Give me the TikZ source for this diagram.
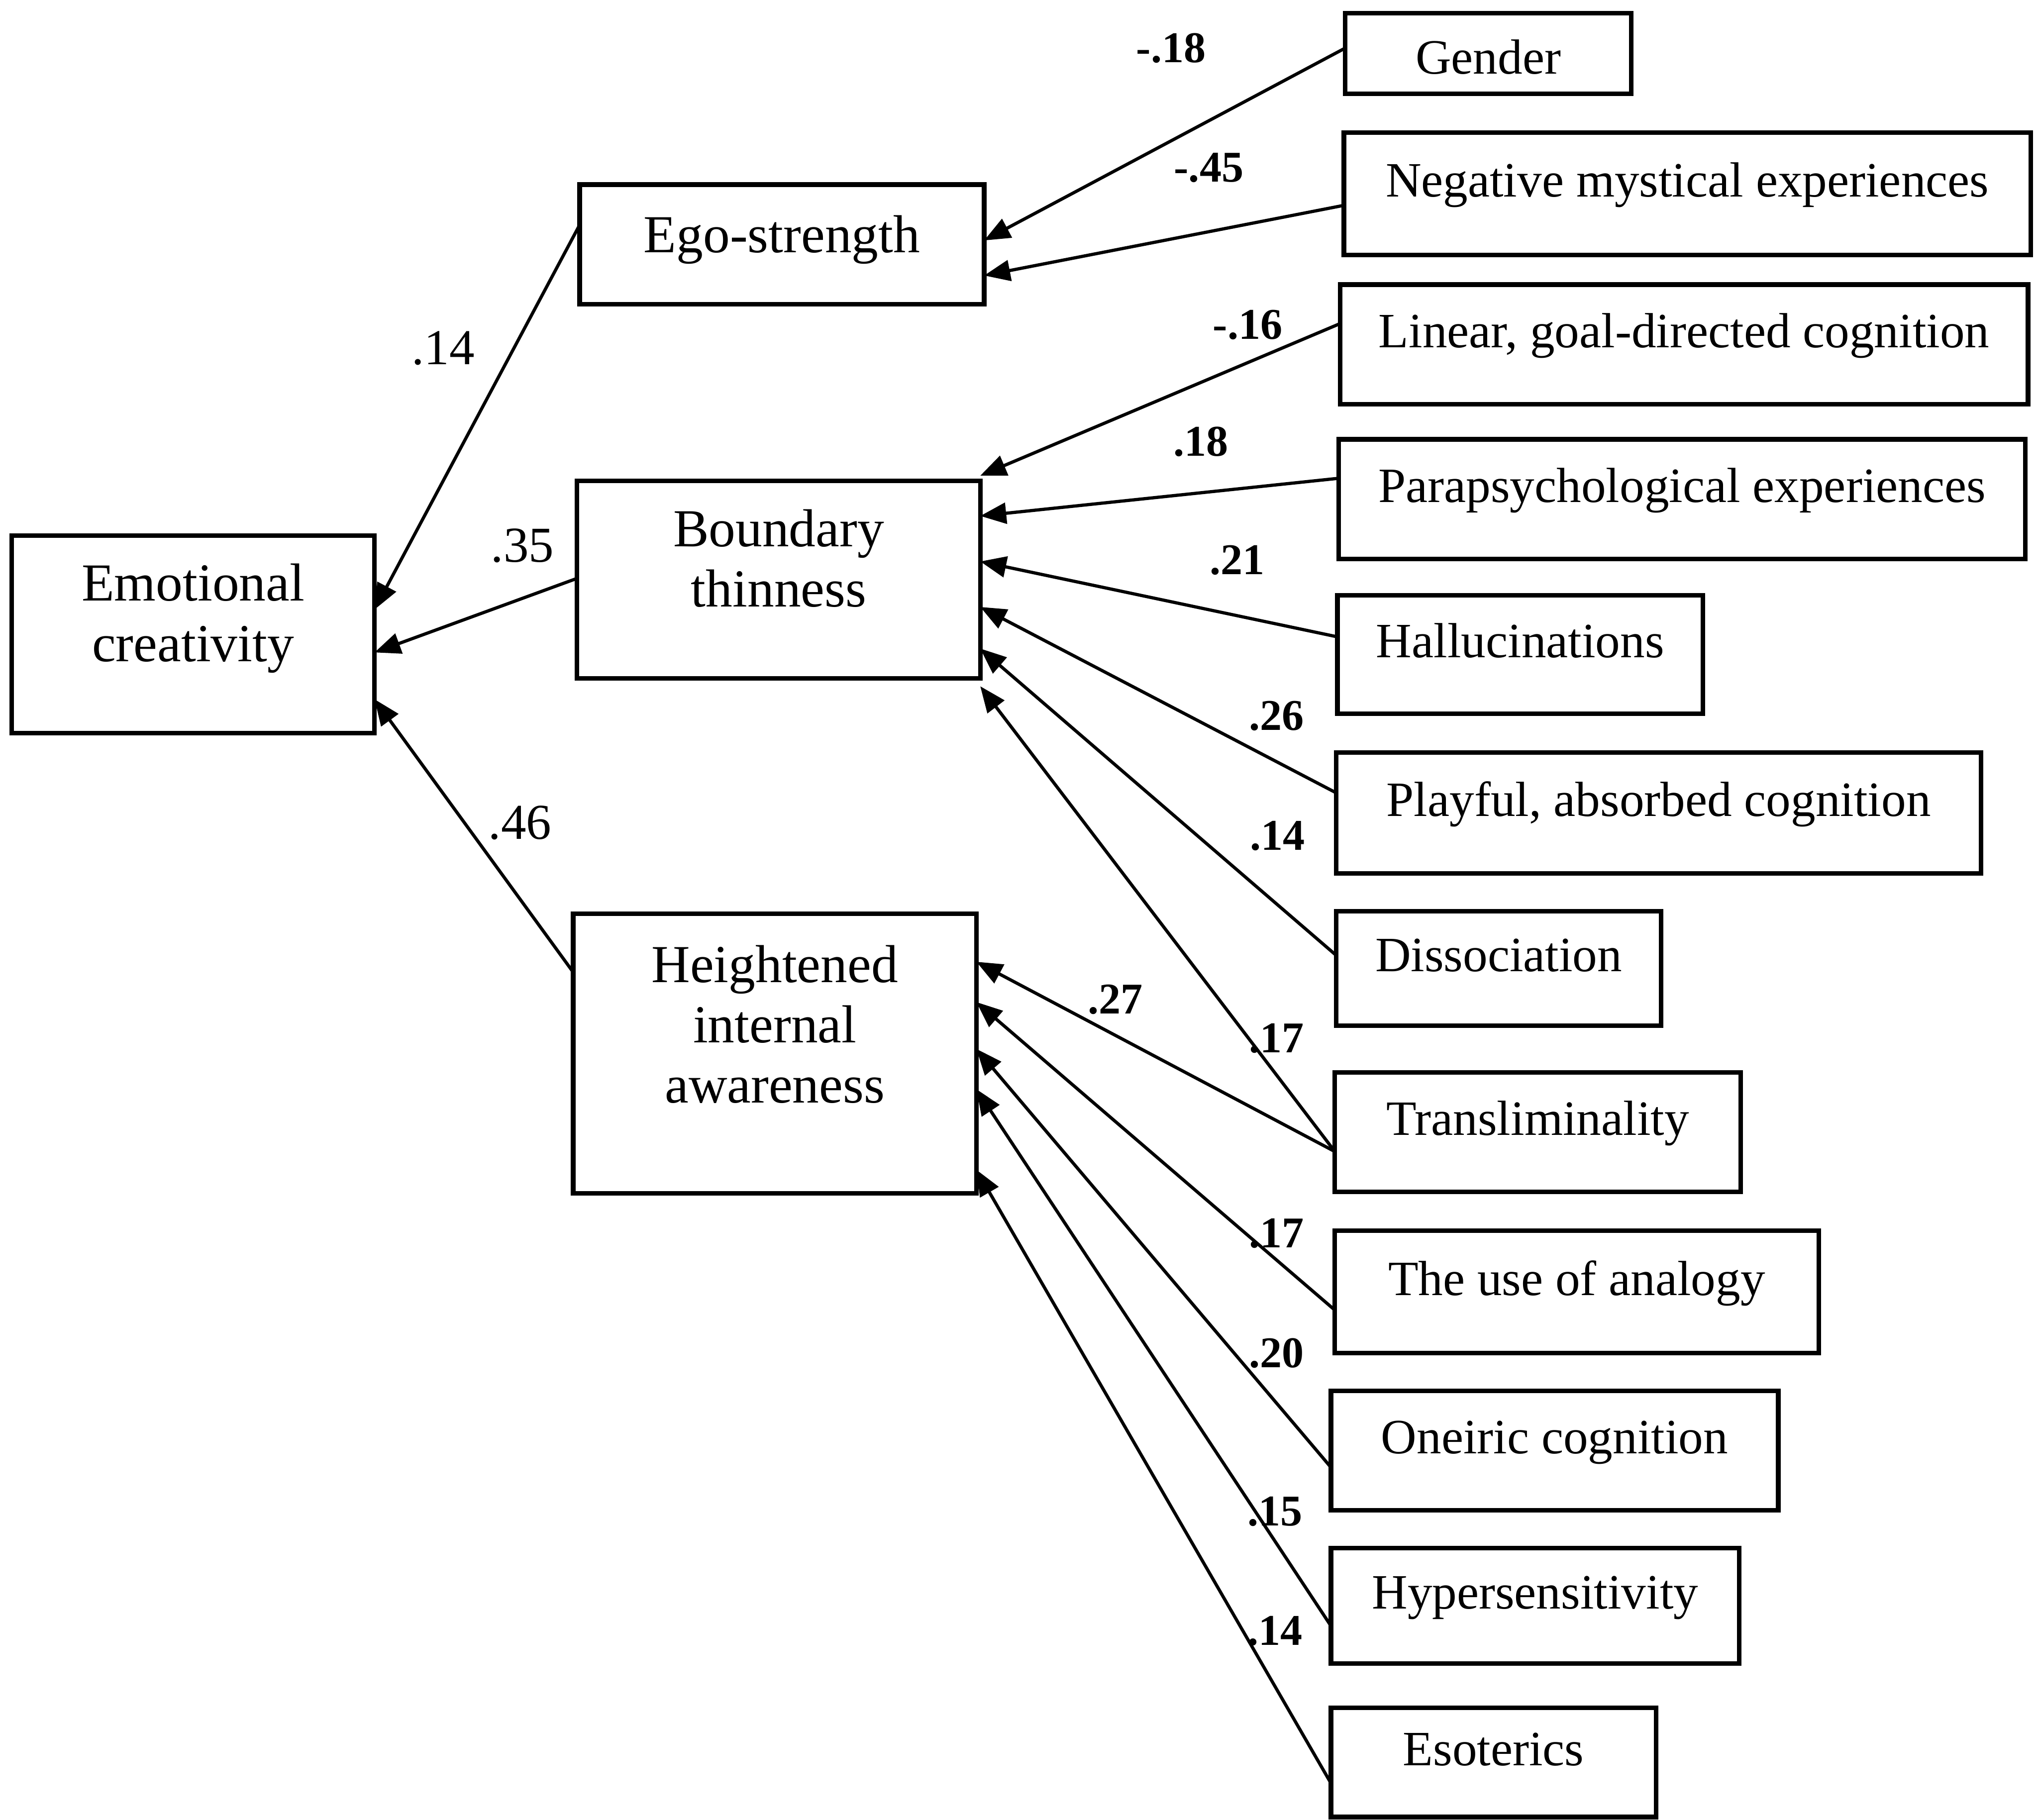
\documentclass[tikz,border=0pt]{standalone}
\usepackage{fontspec}
\setmainfont{Liberation Serif}
\usetikzlibrary{arrows.meta, calc}

\begin{document}
\begin{tikzpicture}[
    x=0.01cm, y=-0.01cm,
    >={Triangle[length=0.2cm, width=0.16cm]},
    box/.style={draw, line width=1pt, anchor=north west, inner sep=0pt, outer sep=0pt, align=center},
    mainbox/.style={box, font=\fontsize{11.7}{13.2}\selectfont, text depth=9.5pt},
    itembox/.style={box, font=\fontsize{10.8}{13}\selectfont, text height=7.3pt, text depth=5.9pt},
    arrow/.style={->, line width=0.7pt},
    coef/.style={font=\fontsize{9.6}{11}\selectfont\bfseries, inner sep=0pt},
    bigcoef/.style={font=\fontsize{11}{13}\selectfont, inner sep=0pt}
]
\useasboundingbox (0,0) rectangle (1568,1400);

% Criterio
\node[mainbox, minimum width=2.79cm, minimum height=1.52cm] (emo) at (9,412) {Emotional\\creativity};

% Mediadores
\node[mainbox, minimum width=3.11cm, minimum height=0.92cm, text depth=4.5pt] (ego) at (446,142) {Ego-strength};
\node[mainbox, minimum width=3.10cm, minimum height=1.52cm] (bound) at (444,370) {Boundary\\thinness};
\node[mainbox, minimum width=3.10cm, minimum height=2.15cm, text depth=12.9pt] (aware) at (441,703) {Heightened\\internal\\awareness};

% Predictores
\node[itembox, minimum width=2.20cm, minimum height=0.62cm, text height=9pt, text depth=0pt] (gender) at (1035,10) {Gender};
\node[itembox, minimum width=5.28cm, minimum height=0.94cm] (negmyst) at (1034,102) {Negative mystical experiences};
\node[itembox, minimum width=5.29cm, minimum height=0.92cm] (linear) at (1031,219) {Linear, goal-directed cognition};
\node[itembox, minimum width=5.28cm, minimum height=0.92cm] (parapsy) at (1030,338) {Parapsychological experiences};
\node[itembox, minimum width=2.81cm, minimum height=0.91cm] (halluc) at (1029,458) {Hallucinations};
\node[itembox, minimum width=4.96cm, minimum height=0.93cm] (playful) at (1028,579) {Playful, absorbed cognition};
\node[itembox, minimum width=2.50cm, minimum height=0.88cm] (dissoc) at (1028,701) {Dissociation};
\node[itembox, minimum width=3.12cm, minimum height=0.92cm] (translim) at (1027,825) {Transliminality};
\node[itembox, minimum width=3.72cm, minimum height=0.94cm] (analogy) at (1027,947) {The use of analogy};
\node[itembox, minimum width=3.44cm, minimum height=0.92cm] (oneiric) at (1024,1070) {Oneiric cognition};
\node[itembox, minimum width=3.14cm, minimum height=0.89cm] (hypers) at (1024,1191) {Hypersensitivity};
\node[itembox, minimum width=2.50cm, minimum height=0.84cm] (esoter) at (1024,1314) {Esoterics};

% Caminos hacia el criterio
\draw[arrow] (ego.west |- 0,173) -- (emo.east |- 0,469);
\draw[arrow] (bound.west |- 0,445) -- (emo.east |- 0,502);
\draw[arrow] (aware.west |- 0,748) -- (emo.east |- 0,538);
\node[bigcoef] (p1) at (341,268) {.14};
\node[bigcoef] (p2) at (402,420) {.35};
\node[bigcoef] (p3) at (400,633) {.46};

% Caminos hacia Ego-strength
\draw[arrow] (gender.west |- 0,37) -- (ego.east |- 0,185);
\draw[arrow] (negmyst.west |- 0,158) -- (ego.east |- 0,212);
\node[coef] (c1) at (901,37) {-.18};
\node[coef] (c2) at (930,129) {-.45};

% Caminos hacia Boundary thinness
\draw[arrow] (linear.west |- 0,249) -- (bound.east |- 0,366);
\draw[arrow] (parapsy.west |- 0,368) -- (bound.east |- 0,397);
\draw[arrow] (halluc.west |- 0,490) -- (bound.east |- 0,432);
\draw[arrow] (playful.west |- 0,610) -- (bound.east |- 0,467);
\draw[arrow] (dissoc.west |- 0,735) -- (bound.east |- 0,499);
\draw[arrow] (translim.west |- 0,886) -- (bound.east |- 0,528);
\node[coef] (c3) at (960,250) {-.16};
\node[coef] (c4) at (924,340) {.18};
\node[coef] (c5) at (952,431) {.21};
\node[coef] (c6) at (982,551) {.26};
\node[coef] (c7) at (983,643) {.14};
\node[coef] (c8) at (982,799) {.17};

% Caminos hacia Heightened internal awareness
\draw[arrow] (translim.west |- 0,886) -- (aware.east |- 0,740);
\draw[arrow] (analogy.west |- 0,1008) -- (aware.east |- 0,771);
\draw[arrow] (oneiric.west |- 0,1129) -- (aware.east |- 0,807);
\draw[arrow] (hypers.west |- 0,1251) -- (aware.east |- 0,838);
\draw[arrow] (esoter.west |- 0,1372) -- (aware.east |- 0,900);
\node[coef] (c9) at (858,769) {.27};
\node[coef] (c10) at (982,949) {.17};
\node[coef] (c11) at (982,1041) {.20};
\node[coef] (c12) at (981,1163) {.15};
\node[coef] (c13) at (981,1255) {.14};

\end{tikzpicture}
\end{document}
